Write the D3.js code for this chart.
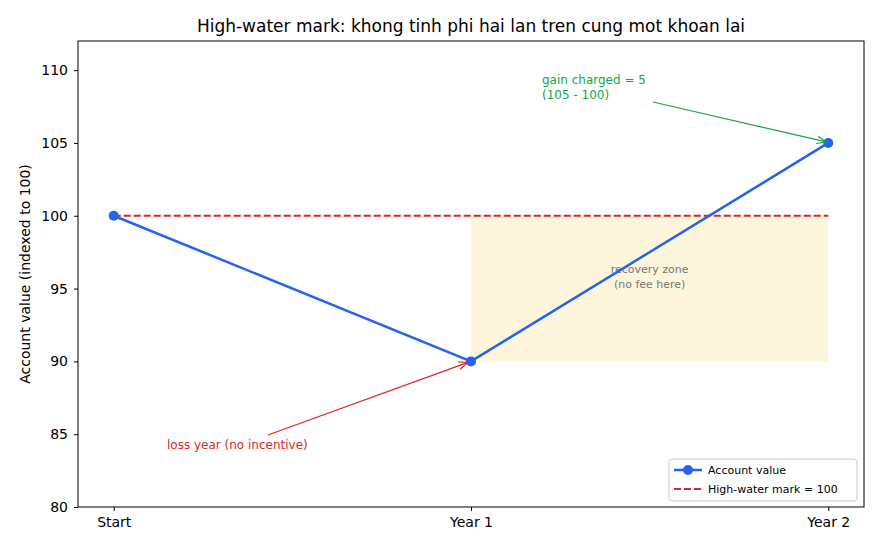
<!DOCTYPE html>
<html><head><meta charset="utf-8">
<script src="https://cdn.jsdelivr.net/npm/d3@7"></script>
<style>body{margin:0;background:#fff;font-family:"DejaVu Sans",sans-serif;}</style>
</head><body><svg id="chart" width="880" height="550"></svg>
<script>
var labels = ["Start", "Year 1", "Year 2"];
var values = [100, 90, 105];
var hwm = 100;
var yTicks = [80, 85, 90, 95, 100, 105, 110];

var svg = d3.select("#chart");
var m = {l: 78, r: 864, t: 41, b: 507};
var x = d3.scaleLinear().domain([-0.1, 2.1]).range([m.l, m.r]);
var y = d3.scaleLinear().domain([80, 112]).range([m.b, m.t]);

var defs = svg.append("defs");
function arrowHead(id, col) {
	defs.append("marker").attr("id", id).attr("viewBox", "0 0 10 10")
		.attr("refX", 10).attr("refY", 5).attr("markerWidth", 8).attr("markerHeight", 8)
		.attr("orient", "auto")
		.append("path").attr("d", "M0,1 L10,5 L0,9").attr("fill", "none").attr("stroke", col).attr("stroke-width", 1.2);
}
arrowHead("ag", "#16a34a");
arrowHead("ar", "#dc2626");

// recovery zone
svg.append("rect").attr("x", x(1)).attr("y", y(100))
	.attr("width", x(2) - x(1)).attr("height", y(90) - y(100))
	.attr("fill", "#fdf6dc");
svg.append("text").attr("x", x(1.5)).attr("y", y(95) - 16).attr("text-anchor", "middle")
	.attr("font-size", 11).attr("fill", "#777")
	.selectAll("tspan").data(["recovery zone", "(no fee here)"]).enter().append("tspan")
	.attr("x", x(1.5)).attr("dy", function(d, i) { return i ? 15 : 0; }).text(function(d) { return d; });

// axes
var gy = svg.append("g").attr("transform", "translate(" + m.l + ",0)")
	.call(d3.axisLeft(y).tickValues(yTicks).tickSize(4).tickPadding(6));
var gx = svg.append("g").attr("transform", "translate(0," + m.b + ")")
	.call(d3.axisBottom(x).tickValues([0, 1, 2]).tickFormat(function(d) { return labels[d]; }).tickSize(4).tickPadding(6));
[gx, gy].forEach(function(g) {
	g.select(".domain").remove();
	g.selectAll("text").attr("font-size", 14).attr("fill", "#000").attr("font-family", "DejaVu Sans");
	g.selectAll("line").attr("stroke", "#000");
});
svg.append("rect").attr("x", m.l).attr("y", m.t).attr("width", m.r - m.l).attr("height", m.b - m.t)
	.attr("fill", "none").attr("stroke", "#000");

// high-water mark
svg.append("line").attr("x1", x(0)).attr("x2", x(2)).attr("y1", y(hwm)).attr("y2", y(hwm))
	.attr("stroke", "#dc2626").attr("stroke-width", 2).attr("stroke-dasharray", "7,3");

// account line
var line = d3.line().x(function(d, i) { return x(i); }).y(function(d) { return y(d); });
svg.append("path").datum(values).attr("d", line).attr("fill", "none")
	.attr("stroke", "#2563eb").attr("stroke-width", 2.5);
svg.selectAll(".pt").data(values).enter().append("circle")
	.attr("cx", function(d, i) { return x(i); }).attr("cy", function(d) { return y(d); })
	.attr("r", 5).attr("fill", "#2563eb");

// annotations
svg.append("line").attr("x1", 653).attr("y1", 102).attr("x2", x(2) - 2).attr("y2", y(105) - 1)
	.attr("stroke", "#16a34a").attr("stroke-width", 1.2).attr("marker-end", "url(#ag)");
svg.append("text").attr("font-size", 12).attr("fill", "#16a34a")
	.selectAll("tspan").data(["gain charged = 5", "(105 - 100)"]).enter().append("tspan")
	.attr("x", 542).attr("y", function(d, i) { return 84 + i * 15; }).text(function(d) { return d; });
svg.append("line").attr("x1", 268).attr("y1", 435).attr("x2", x(1) - 3).attr("y2", y(90) + 1)
	.attr("stroke", "#dc2626").attr("stroke-width", 1.2).attr("marker-end", "url(#ar)");
svg.append("text").attr("x", 167).attr("y", 449).attr("font-size", 12).attr("fill", "#dc2626")
	.text("loss year (no incentive)");

// title
svg.append("text").attr("x", (m.l + m.r) / 2).attr("y", 32).attr("text-anchor", "middle")
	.attr("font-size", 17).text("High-water mark: khong tinh phi hai lan tren cung mot khoan lai");
svg.append("text").attr("transform", "translate(30," + (m.t + m.b) / 2 + ") rotate(-90)")
	.attr("text-anchor", "middle").attr("font-size", 14).text("Account value (indexed to 100)");

// legend
var lg = svg.append("g").attr("transform", "translate(669,459)");
lg.append("rect").attr("width", 188).attr("height", 42).attr("rx", 3)
	.attr("fill", "#fff").attr("fill-opacity", 0.85).attr("stroke", "#ccc");
lg.append("line").attr("x1", 5).attr("x2", 33).attr("y1", 11).attr("y2", 11).attr("stroke", "#2563eb").attr("stroke-width", 2.5);
lg.append("circle").attr("cx", 19).attr("cy", 11).attr("r", 5).attr("fill", "#2563eb");
lg.append("line").attr("x1", 5).attr("x2", 33).attr("y1", 30).attr("y2", 30).attr("stroke", "#dc2626").attr("stroke-width", 2).attr("stroke-dasharray", "7,3");
lg.append("text").attr("x", 39).attr("y", 15).attr("font-size", 11).text("Account value");
lg.append("text").attr("x", 39).attr("y", 34).attr("font-size", 11).text("High-water mark = " + hwm);
</script></body></html>
